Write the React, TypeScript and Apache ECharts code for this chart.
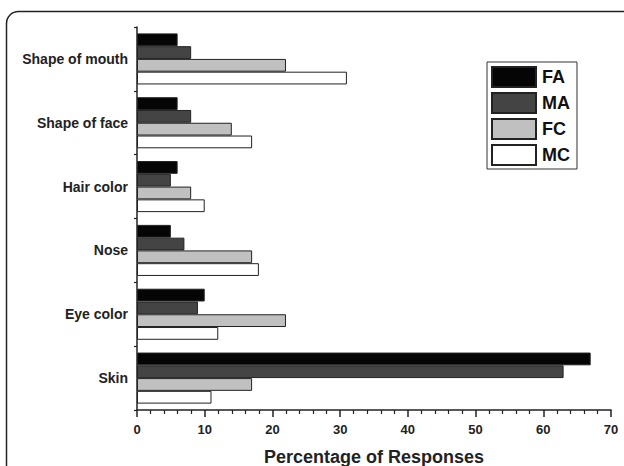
import React, { useEffect, useRef } from "react";
import * as echarts from "echarts";

const categories = ["Shape of mouth", "Shape of face", "Hair color", "Nose", "Eye color", "Skin"];
const seriesNames = ["FA", "MA", "FC", "MC"];
const faValues = [6, 6, 6, 5, 10, 67];
const maValues = [8, 8, 5, 7, 9, 63];
const fcValues = [22, 14, 8, 17, 22, 17];
const mcValues = [31, 17, 10, 18, 12, 11];
const xTicks = { min: 0, max: 70, interval: 10 };

const colors = ["#050505", "#444444", "#c0c0c0", "#ffffff"];
const FONT = "Liberation Sans, Arial, Helvetica, sans-serif";

export default function App() {
  const ref = useRef<HTMLDivElement>(null);
  useEffect(() => {
    if (!ref.current) return;
    const chart = echarts.init(ref.current, null, { renderer: "svg" });
    const data = [faValues, maValues, fcValues, mcValues];
    chart.setOption({
      animation: false,
      backgroundColor: "#ffffff",
      graphic: [
        {
          type: "rect",
          shape: { x: 6.5, y: 11.5, width: 720, height: 520, r: 12 },
          style: { fill: "none", stroke: "#222", lineWidth: 1.5 },
          silent: true,
          z: -1,
        },
      ],
      grid: { left: 137, width: 474, top: 27, height: 383, containLabel: false, outerBoundsMode: "none" },
      legend: {
        data: seriesNames,
        orient: "vertical",
        left: 487,
        top: 62,
        padding: [4, 7, 3, 4],
        itemWidth: 44,
        itemHeight: 20,
        itemGap: 4,
        borderColor: "#333",
        borderWidth: 1,
        backgroundColor: "#fff",
        icon: "rect",
        textStyle: { fontFamily: FONT, fontWeight: "bold", fontSize: 18, color: "#111", padding: [0, 0, 0, 1] },
      },
      xAxis: {
        type: "value",
        min: xTicks.min,
        max: xTicks.max,
        interval: xTicks.interval,
        name: "Percentage of Responses",
        nameLocation: "middle",
        nameGap: 38,
        nameTextStyle: { fontFamily: FONT, fontWeight: "bold", fontSize: 18, color: "#222" },
        axisLine: { show: true, lineStyle: { color: "#222", width: 1.5 } },
        axisTick: { show: true, length: 7, lineStyle: { color: "#222", width: 1.5 } },
        minorTick: { show: true, splitNumber: 5, length: 4, lineStyle: { color: "#222", width: 1.2 } },
        splitLine: { show: false },
        axisLabel: { fontFamily: FONT, fontWeight: "bold", fontSize: 13, color: "#222", margin: 13 },
      },
      yAxis: {
        type: "category",
        data: categories,
        inverse: true,
        axisLine: { show: true, lineStyle: { color: "#222", width: 1.5 } },
        axisTick: { show: true, length: 3, lineStyle: { color: "#222", width: 1.2 } },
        axisLabel: { fontFamily: FONT, fontWeight: "bold", fontSize: 14, color: "#222", margin: 9 },
        splitLine: { show: false },
      },
      series: seriesNames.map((name, i) => ({
        name,
        type: "bar",
        data: data[i],
        barGap: "0%",
        barCategoryGap: "20%",
        itemStyle: { color: colors[i], borderColor: "#222", borderWidth: 1 },
      })),
    });
    return () => chart.dispose();
  }, []);
  return <div ref={ref} style={{ position: "absolute", left: 0, top: 0, width: 624, height: 466 }} />;
}
